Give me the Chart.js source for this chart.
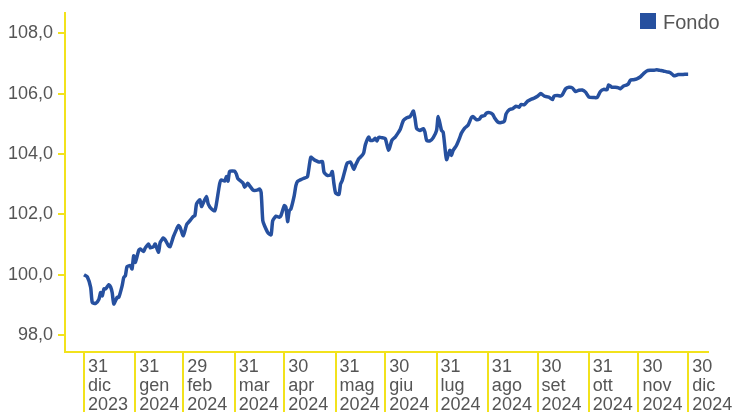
<!DOCTYPE html>
<html>
<head>
<meta charset="utf-8">
<script src="https://cdn.jsdelivr.net/npm/chart.js@4/dist/chart.umd.min.js"></script>
<style>
  html, body { margin: 0; padding: 0; background: #fff; }
  #wrap { position: relative; width: 734px; height: 412px; }
  #legend {
    position: absolute; left: 640px; top: 12px;
    font: 20px/20px 'Liberation Sans', Arial, sans-serif; color: #555;
    white-space: nowrap;
  }
  #legend span {
    display: inline-block; width: 16px; height: 16px; background: #26509f;
    vertical-align: top; margin: 1px 7px 0 0;
  }
</style>
</head>
<body>
<div id="wrap">
  <canvas id="fundChart"></canvas>
  <div id="legend"><span></span>Fondo</div>
</div>
<script>
// days since 31 dic 2023 and fund value (base 100)
const days = [0,2,4,5,7,9,10,11,12,13,15,16,17,18,20,21,23,24,25,26,28,29,30,31,33,34,36,37,39,40,42,43,45,46,48,49,51,52,54,56,57,58,60,62,64,66,67,68,70,71,72,74,75,77,79,80,82,83,85,86,87,88,91,92,93,
  96,97,99,100,102,103,105,106,107,108,109,111,113,114,116,118,119,121,122,123,124,125,127,128,129,131,133,135,137,139,140,142,144,145,147,149,150,151,152,154,155,156,158,159,161,162,163,164,166,168,169,170,172,173,175,176,177,178,180,182,184,186,188,190,
  191,193,195,197,198,199,200,201,203,205,206,207,209,211,213,214,216,217,218,219,221,222,223,225,227,228,230,232,234,235,237,239,240,242,243,245,247,248,250,252,254,255,257,259,261,263,264,266,268,270,272,274,276,278,280,281,283,284,286,
  288,289,291,293,295,297,299,301,303,305,308,310,312,314,316,317,319,321,323,324,326,328,329,330,332,334,336,338,340,342,344,346,348,350,352,354,356,357,359,361,363,365];

const fondo = [100.00,99.93,99.58,99.08,99.05,99.19,99.41,99.30,99.53,99.53,99.67,99.60,99.41,99.03,99.25,99.25,99.63,99.91,99.97,100.27,100.30,100.19,100.63,100.41,100.80,100.85,100.77,100.89,101.02,100.89,100.93,101.02,100.74,101.07,101.22,101.16,100.96,100.93,101.26,101.52,101.63,101.57,101.29,101.66,101.79,101.93,101.96,102.35,102.48,102.26,102.37,102.59,102.35,102.18,102.12,102.35,103.03,103.14,103.10,103.25,103.10,103.42,103.43,103.34,103.18,
  103.04,102.90,103.03,102.95,102.81,102.79,102.81,102.84,102.73,101.79,101.63,101.40,101.32,101.79,101.94,101.90,101.96,102.29,102.23,101.76,102.12,102.18,102.62,102.95,103.09,103.15,103.20,103.25,103.89,103.81,103.78,103.73,103.75,103.40,103.29,103.31,103.42,103.01,102.71,102.66,103.01,103.12,103.53,103.70,103.73,103.62,103.49,103.62,103.84,103.95,104.04,104.31,104.56,104.45,104.47,104.52,104.43,104.55,104.54,104.51,104.12,104.45,104.56,104.72,
  104.81,105.11,105.20,105.24,105.33,105.42,105.17,104.84,104.78,104.84,104.72,104.45,104.43,104.54,104.78,105.24,104.78,104.72,104.25,103.81,104.12,103.95,104.12,104.28,104.54,104.69,104.86,104.95,105.20,105.24,105.14,105.16,105.24,105.27,105.35,105.37,105.31,105.20,105.06,105.04,105.09,105.33,105.47,105.50,105.58,105.55,105.64,105.63,105.75,105.81,105.85,105.91,106.00,105.92,105.89,105.88,105.80,105.92,105.94,
  105.92,105.96,106.16,106.21,106.19,106.07,106.11,106.12,106.05,105.89,105.87,105.87,106.07,106.14,106.13,106.29,106.21,106.21,106.19,106.16,106.25,106.29,106.33,106.44,106.46,106.49,106.55,106.66,106.75,106.77,106.77,106.79,106.77,106.75,106.72,106.70,106.61,106.59,106.63,106.63,106.64,106.64];

// x tick labels (month ends)
const tickDays = [0,31,60,91,121,152,182,213,244,274,305,335,365];
const tickDayNums = ['31','31','29','31','30','31','30','31','31','30','31','30','30'];
const tickMonths = ['dic','gen','feb','mar','apr','mag','giu','lug','ago','set','ott','nov','dic'];
const tickYears = ['2023','2024','2024','2024','2024','2024','2024','2024','2024','2024','2024','2024','2024'];

const yTicks = [98, 100, 102, 104, 106, 108];

const yellow = '#f2e21c';
const blue = '#26509f';
const grey = '#555555';
const font = 'Liberation Sans, Arial, sans-serif';

const ctx = document.getElementById('fundChart').getContext('2d');
new Chart(ctx, {
  type: 'line',
  data: {
    datasets: [{
      label: 'Fondo',
      data: days.map((d, i) => ({ x: d, y: fondo[i] })),
      borderColor: blue,
      backgroundColor: blue,
      borderWidth: 3.5,
      pointRadius: 0,
      fill: false,
      tension: 0.2
    }]
  },
  options: {
    responsive: true,
    maintainAspectRatio: false,
    animation: false,
    layout: { padding: { top: 13, left: 0, right: 0, bottom: 0 } },
    plugins: {
      tooltip: { enabled: false },
      legend: { display: false }
    },
    scales: {
      x: {
        type: 'linear',
        min: -11.5,
        max: 377,
        afterBuildTicks: s => { s.ticks = tickDays.map(v => ({ value: v })); },
        afterFit: s => { s.height = 60; s.paddingLeft = 0; s.paddingRight = 26; },
        border: { color: yellow, width: 2 },
        grid: { drawOnChartArea: false, color: yellow, lineWidth: 2, tickLength: 60 },
        ticks: {
          autoSkip: false,
          maxRotation: 0,
          align: 'start',
          labelOffset: 4,
          padding: -55,
          color: grey,
          font: { family: font, size: 18, lineHeight: 1.06 },
          callback: v => {
            const i = tickDays.indexOf(v);
            return i < 0 ? '' : [tickDayNums[i], tickMonths[i], tickYears[i]];
          }
        }
      },
      y: {
        min: 97.44,
        max: 108.67,
        afterBuildTicks: s => { s.ticks = yTicks.map(v => ({ value: v })); },
        afterFit: s => { s.width = 65; s.paddingTop = 0; s.paddingBottom = 0; },
        border: { color: yellow, width: 2 },
        grid: { drawOnChartArea: false, color: yellow, lineWidth: 2, tickLength: 7 },
        ticks: {
          padding: 5,
          color: grey,
          font: { family: font, size: 18 },
          callback: v => v.toFixed(1).replace('.', ',')
        }
      }
    }
  }
});
</script>
</body>
</html>
